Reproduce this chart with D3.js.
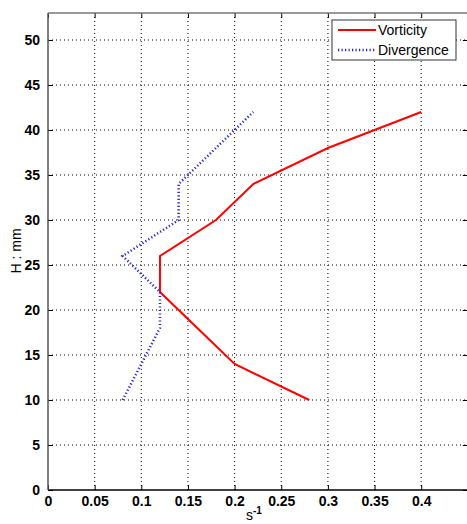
<!DOCTYPE html>
<html>
<head>
<meta charset="utf-8">
<script src="https://cdn.jsdelivr.net/npm/d3@7"></script>
<style>
  body { margin: 0; background: #fff; }
  svg { display: block; font-family: "Liberation Sans", Arial, sans-serif; }
  .grid line { stroke: #000; stroke-dasharray: 1,3; stroke-width: 1; }
  .tick text { font-size: 14px; fill: #000; }
</style>
</head>
<body>
<svg id="chart"></svg>
<script>
// values
var heights = [10, 14, 18, 22, 26, 30, 34, 38, 42];
var vorticity = [0.28, 0.2, 0.16, 0.12, 0.12, 0.18, 0.22, 0.3, 0.4];
var divergence = [0.08, 0.1, 0.12, 0.12, 0.08, 0.14, 0.14, 0.18, 0.22];
var xTicks = [0, 0.05, 0.1, 0.15, 0.2, 0.25, 0.3, 0.35, 0.4];
var yTicks = [0, 5, 10, 15, 20, 25, 30, 35, 40, 45, 50];
var seriesNames = ["Vorticity", "Divergence"];

var svg = d3.select("#chart"),
    margin = { top: 13, right: 2, bottom: 34, left: 48 },
    W = 467, H = 524,
    width = W - margin.left - margin.right,
    height = H - margin.top - margin.bottom;

svg.attr("width", W).attr("height", H);

var g = svg.append("g").attr("transform", "translate(" + margin.left + "," + margin.top + ")");

var x = d3.scaleLinear().domain([0, 0.45]).range([0, 933 * 0.45]),
    y = d3.scaleLinear().domain([0, 53]).range([height, 0]);
width = x(0.45);

// grid
g.append("g").attr("class", "grid")
    .selectAll("line").data(xTicks.slice(1)).enter().append("line")
    .attr("x1", d => x(d)).attr("x2", d => x(d))
    .attr("y1", 0).attr("y2", height);
g.append("g").attr("class", "grid")
    .selectAll("line").data(yTicks.slice(1)).enter().append("line")
    .attr("x1", 0).attr("x2", width)
    .attr("y1", d => y(d)).attr("y2", d => y(d));

// axes (matlab style: ticks inside, on all four sides)
var fmt = d3.format("");
g.append("g").attr("transform", "translate(0," + height + ")")
    .call(d3.axisBottom(x).tickValues(xTicks).tickSize(-5).tickPadding(6).tickFormat(fmt))
    .call(a => a.select(".domain").remove());
g.append("g")
    .call(d3.axisTop(x).tickValues(xTicks).tickSize(-5).tickFormat(""))
    .call(a => a.select(".domain").remove());
g.append("g")
    .call(d3.axisLeft(y).tickValues(yTicks).tickSize(-5).tickPadding(8).tickFormat(fmt))
    .call(a => a.select(".domain").remove());
g.append("g").attr("transform", "translate(" + width + ",0)")
    .call(d3.axisRight(y).tickValues(yTicks).tickSize(-5).tickFormat(""))
    .call(a => a.select(".domain").remove());

g.selectAll(".tick text").style("font-weight", "bold").attr("fill", "#111");

// frame
g.append("line").attr("x1", 0).attr("x2", width).attr("y1", height).attr("y2", height)
    .attr("stroke", "#000").attr("stroke-width", 1.5);
g.append("line").attr("x1", 0).attr("x2", 0).attr("y1", 0).attr("y2", height)
    .attr("stroke", "#555").attr("stroke-width", 1.5);
g.append("line").attr("x1", 0).attr("x2", width).attr("y1", 0).attr("y2", 0)
    .attr("stroke", "#777").attr("stroke-width", 1.5);
g.append("line").attr("x1", width).attr("x2", width).attr("y1", 0).attr("y2", height)
    .attr("stroke", "#777").attr("stroke-width", 1.5);

// lines
var line = d3.line()
    .x(d => x(d[0]))
    .y(d => y(d[1]));

g.append("path")
    .datum(vorticity.map((v, i) => [v, heights[i]]))
    .attr("fill", "none").attr("stroke", "#f00").attr("stroke-width", 2)
    .attr("d", line);

g.append("path")
    .datum(divergence.map((v, i) => [v, heights[i]]))
    .attr("fill", "none").attr("stroke", "#2222dd").attr("stroke-width", 2.5)
    .attr("stroke-dasharray", "1.2,2.3")
    .attr("d", line);

// axis labels
svg.append("text")
    .attr("transform", "translate(21,251) rotate(-90)")
    .attr("text-anchor", "middle")
    .style("font-size", "14px")
    .text("H : mm");

var xl = svg.append("text")
    .attr("x", 246).attr("y", 520)
    .style("font-size", "14px");
xl.append("tspan").text("s");
xl.append("tspan").attr("dy", -6).style("font-size", "10px").style("font-weight", "bold").text("-1");

// legend
var lg = svg.append("g").attr("transform", "translate(332,20)");
lg.append("rect").attr("width", 124).attr("height", 40)
    .attr("fill", "#fff").attr("stroke", "#333").attr("stroke-width", 1);
var item = lg.selectAll(".item").data(seriesNames).enter().append("g")
    .attr("transform", (d, i) => "translate(0," + (10 + i * 20) + ")");
item.append("line")
    .attr("x1", 6).attr("x2", 44).attr("y1", 0).attr("y2", 0)
    .attr("stroke", (d, i) => i == 0 ? "#f00" : "#2222dd")
    .attr("stroke-width", (d, i) => i == 0 ? 2 : 2.5)
    .attr("stroke-dasharray", (d, i) => i == 0 ? null : "1.2,2.3");
item.append("text")
    .attr("x", 46).attr("y", 5)
    .style("font-size", "14px")
    .text(d => d);
</script>
</body>
</html>
